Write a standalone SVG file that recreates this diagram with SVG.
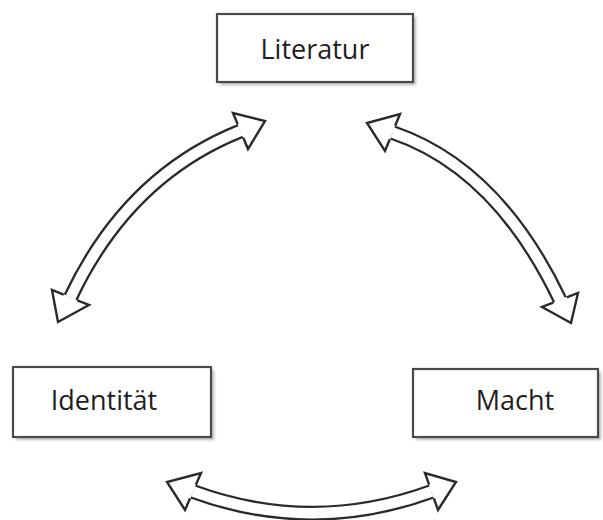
<svg xmlns="http://www.w3.org/2000/svg" width="603" height="520" viewBox="0 0 603 520">
<defs>
<filter id="sh" x="-10%" y="-10%" width="130%" height="140%"><feGaussianBlur stdDeviation="1.5"/></filter>
</defs>
<style>
.box{fill:#fff;stroke:#4a4a4a;stroke-width:2.2}
.shadow{fill:#b8b8b8;filter:url(#sh)}
.lbl{font-family:"Open Sans","Noto Sans",sans-serif;font-size:27px;fill:#1e1e1e;text-anchor:middle}
.outer{fill:none;stroke:#2a2a2a;stroke-width:15}
.inner{fill:none;stroke:#fff;stroke-width:10.4}
.hf{fill:#fff;stroke:none}
.hl{fill:none;stroke:#2a2a2a;stroke-width:2.4;stroke-linejoin:miter}
</style>
<rect width="603" height="520" fill="#fff"/>
<g id="literatur">
<rect class="shadow" x="220" y="17" width="196" height="68"/>
<rect class="box" x="217" y="14" width="196" height="68"/>
<text class="lbl" x="315" y="59">Literatur</text>
</g>
<g id="identitaet">
<rect class="shadow" x="16" y="370" width="198" height="70"/>
<rect class="box" x="13" y="367" width="198" height="70"/>
<text class="lbl" x="104" y="410">Identität</text>
</g>
<g id="macht">
<rect class="shadow" x="416" y="372" width="185" height="68"/>
<rect class="box" x="413" y="369" width="185" height="68"/>
<text class="lbl" x="515" y="410">Macht</text>
</g>
<g id="connectors">
<!-- left arrow: Identität <-> Literatur -->
<path class="outer" d="M70.5,297.5 Q128,176 240.5,131"/>
<path class="inner" d="M70.5,297.5 Q128,176 240.5,131"/>
<polygon class="hf" points="237.7,124.3 233,113 265,121 248,149 243.3,137.7"/>
<polyline class="hl" points="237.7,124.3 233,113 265,121 248,149 243.3,137.7"/>
<polygon class="hf" points="63.7,294.7 52,290 58,322 89,305 77.3,300.3"/>
<polyline class="hl" points="63.7,294.7 52,290 58,322 89,305 77.3,300.3"/>
<!-- right arrow: Literatur <-> Macht -->
<path class="outer" d="M392.5,132.5 Q497,168 560,300"/>
<path class="inner" d="M392.5,132.5 Q497,168 560,300"/>
<polygon class="hf" points="395.2,125.7 400,114 367,123 385,151 389.8,139.3"/>
<polyline class="hl" points="395.2,125.7 400,114 367,123 385,151 389.8,139.3"/>
<polygon class="hf" points="566.8,297.3 578,293 571,323 542,307 553.2,302.7"/>
<polyline class="hl" points="566.8,297.3 578,293 571,323 542,307 553.2,302.7"/>
<!-- bottom arrow: Identität <-> Macht -->
<path class="outer" d="M193,491.5 Q312,535 431.5,491.5"/>
<path class="inner" d="M193,491.5 Q312,535 431.5,491.5"/>
<polygon class="hf" points="195.9,484.8 201,473 167,482 185,510 190.1,498.2"/>
<polyline class="hl" points="195.9,484.8 201,473 167,482 185,510 190.1,498.2"/>
<polygon class="hf" points="429.1,484.6 425,473 456,482 438,510 433.9,498.4"/>
<polyline class="hl" points="429.1,484.6 425,473 456,482 438,510 433.9,498.4"/>
</g>
</svg>
